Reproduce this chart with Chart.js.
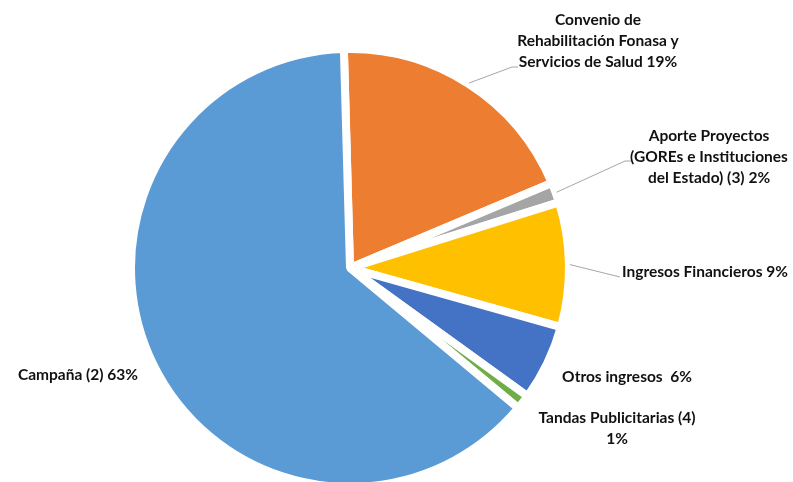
<!DOCTYPE html>
<html>
<head>
<meta charset="utf-8">
<script src="https://cdn.jsdelivr.net/npm/chart.js@4.4.0/dist/chart.umd.min.js"></script>
<style>
  html, body { margin: 0; padding: 0; background: #fff; }
  #wrap { width: 793px; height: 482px; }
</style>
</head>
<body>
<div id="wrap"><canvas id="chart" width="793" height="482"></canvas></div>
<script>
// ─── DATA ─────────────────────────────────────────────────────────────
const categories = [
  'Convenio de Rehabilitación Fonasa y Servicios de Salud',
  'Aporte Proyectos (GOREs e Instituciones del Estado) (3)',
  'Ingresos Financieros',
  'Otros ingresos',
  'Tandas Publicitarias (4)',
  'Campaña (2)',
];
const values = [19.1, 1.5, 9.2, 5.6, 1.1, 63.5];
const pctLabels = ['19%', '2%', '9%', '6%', '1%', '63%'];
// label text as broken into lines in the picture
const labelLines = [
  ['Convenio de', 'Rehabilitación Fonasa y', 'Servicios de Salud 19%'],
  ['Aporte Proyectos', '(GOREs e Instituciones', 'del Estado) (3) 2%'],
  ['Ingresos Financieros 9%'],
  ['Otros ingresos  6%'],
  ['Tandas Publicitarias (4)', '1%'],
  ['Campaña (2) 63%'],
];
const colors = ['#ED7D31', '#A5A5A5', '#FFC000', '#4472C4', '#70AD47', '#5B9BD5'];

// ─── LABEL LAYOUT (text centre + leader elbow) ───────────────────────
const labelLayout = [
  { x: 598, y: 20, leader: [[512, 67], [518, 67]] },
  { x: 709, y: 136, leader: [[625, 161], [631, 161]] },
  { x: 705, y: 272, leader: [[620, 277]] },
  { x: 627, y: 377 },
  { x: 617, y: 418 },
  { x: 78, y: 375 },
];

const pieLabels = {
  id: 'pieLabels',
  afterDraw(chart) {
    const ctx = chart.ctx;
    const arcs = chart.getDatasetMeta(0).data;
    ctx.save();
    // leader lines
    ctx.strokeStyle = '#A6A6A6';
    ctx.lineWidth = 1;
    arcs.forEach((arc, i) => {
      const lay = labelLayout[i];
      if (!lay.leader) return;
      const mid = (arc.startAngle + arc.endAngle) / 2;
      const r = arc.outerRadius + 1;
      ctx.beginPath();
      ctx.moveTo(arc.x + Math.cos(mid) * r, arc.y + Math.sin(mid) * r);
      lay.leader.forEach(([x, y]) => ctx.lineTo(x, y));
      ctx.stroke();
    });
    // texts
    ctx.fillStyle = '#111111';
    ctx.font = 'bold 15.5px Lato';
    ctx.textAlign = 'center';
    ctx.textBaseline = 'middle';
    labelLines.forEach((lines, i) => {
      const lay = labelLayout[i];
      lines.forEach((t, j) => ctx.fillText(t, lay.x, lay.y + j * 20.8));
    });
    ctx.restore();
  },
};

new Chart(document.getElementById('chart'), {
  type: 'pie',
  data: {
    labels: categories,
    datasets: [{
      data: values,
      backgroundColor: colors,
      borderColor: '#ffffff',
      borderWidth: 8,
    }],
  },
  options: {
    responsive: false,
    animation: false,
    rotation: -1.6,
    radius: 219,
    layout: { padding: { left: 0, right: 93, top: 54, bottom: 0 } },
    plugins: { legend: { display: false }, tooltip: { enabled: false } },
    events: [],
  },
  plugins: [pieLabels],
});
</script>
</body>
</html>
